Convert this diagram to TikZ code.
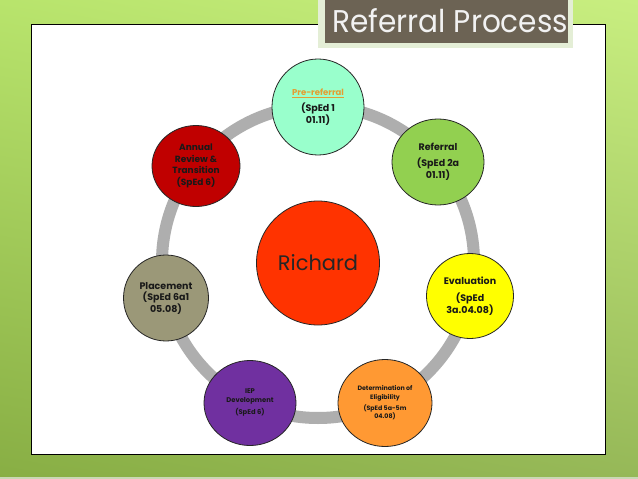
\documentclass[tikz,border=0pt]{standalone}
\usepackage{fontspec}
\setmainfont{Poppins}
\usetikzlibrary{shapes.geometric,shadings}
\definecolor{bgA}{HTML}{B8E46C}
\definecolor{bgB}{HTML}{C8EE80}
\definecolor{bgC}{HTML}{88AE44}
\definecolor{bgD}{HTML}{96B858}
\definecolor{bgline}{HTML}{C9D8B4}
\definecolor{ringgray}{HTML}{AEAEAE}
\definecolor{titlebrown}{HTML}{6C6354}
\definecolor{titleframe}{HTML}{E4EED6}
\definecolor{cpre}{HTML}{99FFCC}
\definecolor{cref}{HTML}{92D050}
\definecolor{ceval}{HTML}{FFFF00}
\definecolor{cdet}{HTML}{FF9933}
\definecolor{ciep}{HTML}{7030A0}
\definecolor{cplace}{HTML}{9B9878}
\definecolor{cann}{HTML}{C00000}
\definecolor{crich}{HTML}{FF3300}
\definecolor{preor}{HTML}{E39E32}
\begin{document}
\begin{tikzpicture}[x=1pt,y=-1pt,
  stage/.style={ellipse, draw=black!85, line width=0.8pt, inner sep=0pt, align=center,
    font=\fontsize{9.5}{11.5}\selectfont\bfseries, text=black!90},
  smallstage/.style={stage, font=\fontsize{6.3}{8.5}\selectfont\bfseries},
  ring/.style={draw=ringgray, line width=12pt}]
\useasboundingbox (0,0) rectangle (638,479);
\shade[upper left=bgA, upper right=bgB, lower left=bgC, lower right=bgD] (0,0) rectangle (638,479);
\fill[bgline] (0,476.5) rectangle (638,479);
% panel
\draw[fill=white, line width=1pt] (31,24) rectangle (605,454);
% title
\fill[titleframe] (318,-2) rectangle (573,48);
\fill[titlebrown] (325,-2) rectangle (568,43);
\node[anchor=base west, inner sep=0pt, text=white!95!black] (title) at (332,32)
  {\resizebox{236pt}{24pt}{Referral Process}};
% ring
\coordinate (c) at (318,262);
\draw[ring] (c) circle (156pt);
% stages
\node[stage, fill=crich, minimum width=123pt, minimum height=124pt,
  font=\fontsize{21}{24}\selectfont, text=black!85] (rich) at (318,263) {Richard};
\node[stage, fill=cpre, minimum width=92pt, minimum height=96pt] (pre) at (318,107)
  {{\fontsize{8.5}{10}\selectfont\textcolor{preor}{\underline{Pre-referral}}}\\[5pt](SpEd 1\\01.11)};
\node[stage, fill=cref, minimum width=92pt, minimum height=86pt] (ref) at (438,162)
  {Referral\\[4.5pt](SpEd 2a\\01.11)};
\node[stage, fill=ceval, minimum width=87pt, minimum height=85pt] (eval) at (470,296)
  {Evaluation\\[5.5pt](SpEd\\3a.04.08)};
\node[smallstage, fill=cdet, minimum width=94pt, minimum height=87pt] (det) at (385,403)
  {Determination of\\Eligibility\\[2.5pt](SpEd 5a-5m\\04.08)};
\node[smallstage, fill=ciep, minimum width=92pt, minimum height=85pt,
  font=\fontsize{6.8}{9}\selectfont\bfseries] (iep) at (250,403)
  {IEP\\Development\\[3pt](SpEd 6)};
\node[stage, fill=cplace, minimum width=85pt, minimum height=86pt] (place) at (166,298)
  {Placement\\(SpEd 6a1\\05.08)};
\node[stage, fill=cann, minimum width=88pt, minimum height=81pt,
  font=\fontsize{9}{11.7}\selectfont\bfseries] (ann) at (196,166)
  {Annual\\Review \&\\Transition\\(SpEd 6)};
\end{tikzpicture}
\end{document}
